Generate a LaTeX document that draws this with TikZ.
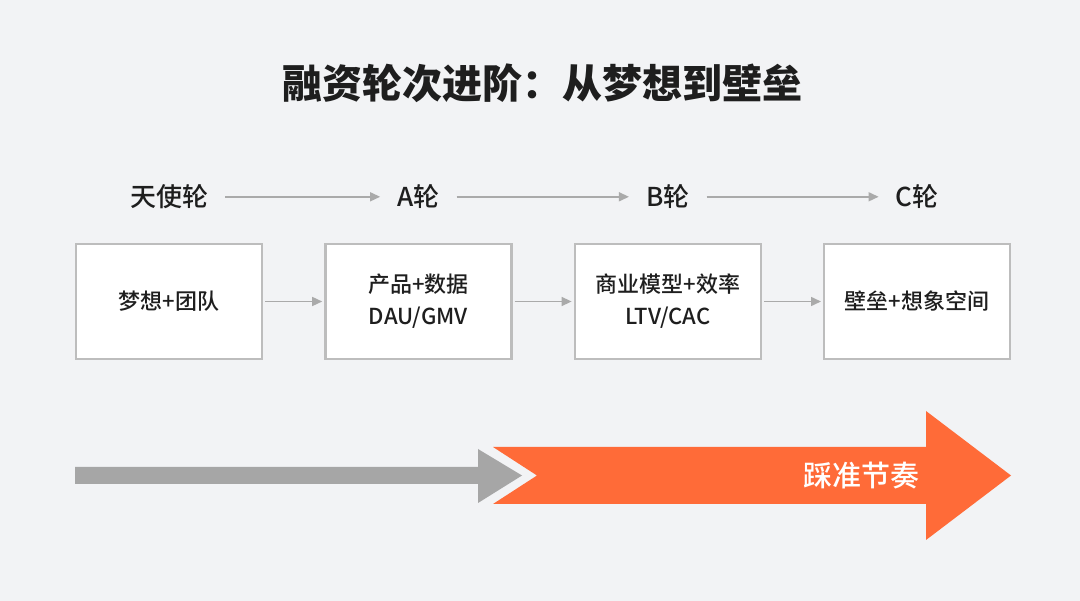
\documentclass[tikz,border=0pt]{standalone}
\usepackage{fontspec}
\setmainfont{Noto Sans CJK SC}
\newfontfamily\medfont{Noto Sans CJK SC Medium}
\usepackage{tikz}
\usetikzlibrary{arrows.meta,positioning}

\definecolor{bgcol}{HTML}{F2F3F5}
\definecolor{linecol}{HTML}{AAAAAA}
\definecolor{boxline}{HTML}{BDBDBD}
\definecolor{barcol}{HTML}{A6A6A6}
\definecolor{hotcol}{HTML}{FF6B38}
\definecolor{inkcol}{HTML}{1E1E1E}

\begin{document}
\begin{tikzpicture}[x=1pt,y=-1pt,
  stage/.style={rectangle,draw=boxline,line width=2.4pt,fill=white,minimum width=186pt,
    minimum height=115pt,align=center,font=\medfont\fontsize{22}{32}\selectfont,text=inkcol},
  round/.style={inner sep=0pt,font=\medfont\fontsize{26}{30}\selectfont,text=inkcol},
  link/.style={-{Triangle[length=10pt,width=9pt]},draw=linecol,fill=linecol,line width=1.5pt}]

  \fill[bgcol] (0,0) rectangle (1080,601);
  \useasboundingbox (0,0) rectangle (1080,601);

  \node[font=\bfseries\fontsize{40}{44}\selectfont,text=inkcol] (title) at (542,83)
    {融资轮次进阶：从梦想到壁垒};

  % stages
  \node[stage] (s1) at (169,301.5) {梦想+团队};
  \node[stage] (s2) [right=61pt of s1] {产品+数据\\DAU/GMV};
  \node[stage] (s3) [right=61pt of s2] {商业模型+效率\\LTV/CAC};
  \node[stage] (s4) [right=61pt of s3] {壁垒+想象空间};

  % rounds
  \node[round] (r1) at ([yshift=46pt]s1.north) {天使轮};
  \node[round] (r2) at ([yshift=46pt]s2.north) {A轮};
  \node[round] (r3) at ([yshift=46pt]s3.north) {B轮};
  \node[round] (r4) at ([yshift=46pt]s4.north) {C轮};

  \path[link,shorten <=17pt,shorten >=17pt]
    (r1) edge (r2)
    (r2) edge (r3)
    (r3) edge (r4);

  \path[link,shorten <=2pt,shorten >=2pt]
    (s1) edge (s2)
    (s2) edge (s3)
    (s3) edge (s4);

  % pace arrows
  \fill[barcol] (75,467) -- (478,467) -- (478,449) -- (522,475.5) -- (478,503)
    -- (478,484) -- (75,484) -- cycle;
  \fill[hotcol] (493,447) -- (926,447) -- (926,411) -- (1011,475.5) -- (926,540)
    -- (926,504) -- (493,504) -- (537,475.5) -- cycle;
  \node[font=\medfont\fontsize{29}{30}\selectfont,text=white,anchor=east] (pace) at (923,476)
    {踩准节奏};

\end{tikzpicture}
\end{document}
